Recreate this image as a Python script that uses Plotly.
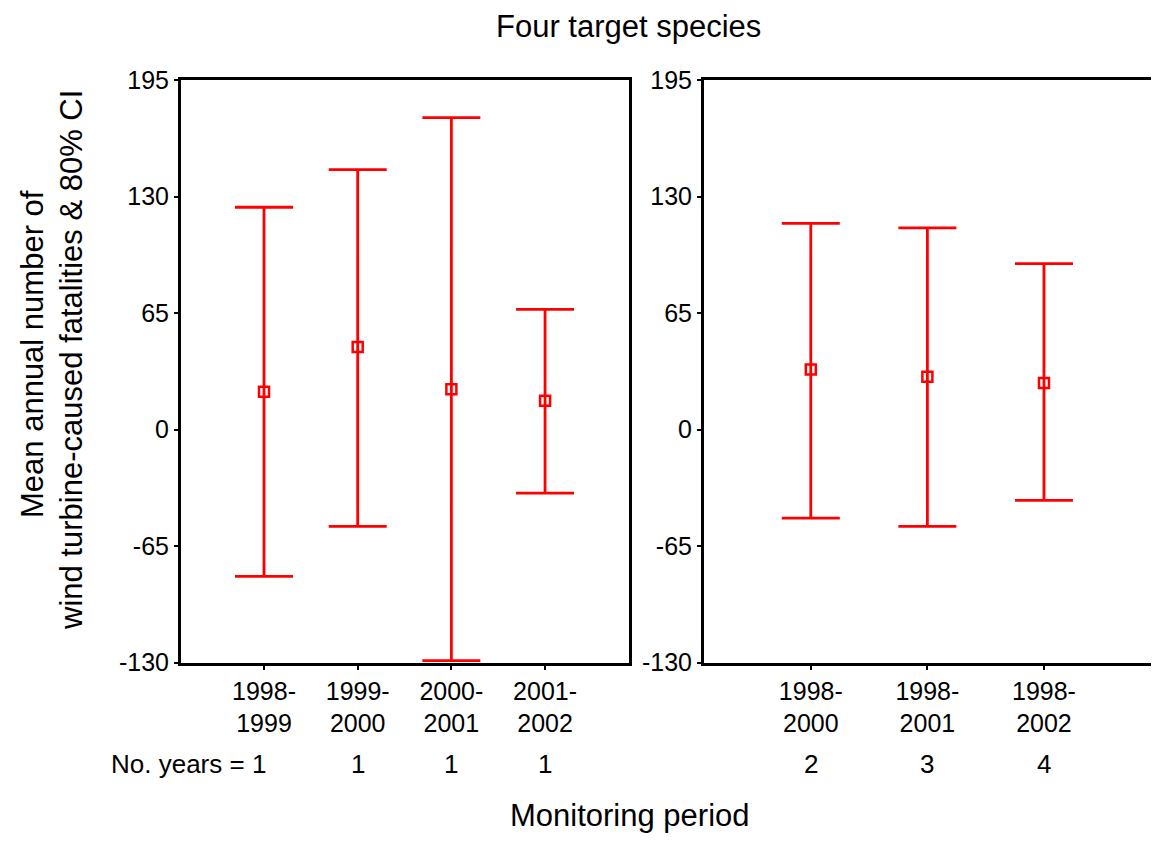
import plotly.graph_objects as go

# Single-year periods (left panel)
single_periods = ["1998-<br>1999", "1999-<br>2000", "2000-<br>2001", "2001-<br>2002"]
single_years = ["1", "1", "1", "1"]
single_mean = [21.0, 46.0, 22.5, 16.0]
single_lower = [-82.0, -54.0, -129.0, -35.5]
single_upper = [124.0, 145.0, 174.0, 67.0]

# Cumulative periods (right panel)
multi_periods = ["1998-<br>2000", "1998-<br>2001", "1998-<br>2002"]
multi_years = ["2", "3", "4"]
multi_mean = [33.5, 29.5, 26.0]
multi_lower = [-49.5, -54.0, -39.5]
multi_upper = [115.0, 112.5, 92.5]

Y_TICKS = [-130, -65, 0, 65, 130, 195]
Y_TICK_TEXT = ["-130", "-65", "0", "65", "130", "195"]
Y_TITLE_LINES = ["Mean annual number of", "wind turbine-caused fatalities & 80% CI"]

RED = "#FF0000"
FONT = "Liberation Sans, Arial, sans-serif"
PAGE_OFF = 8  # page body margin
W, H = 1159 - 2 * PAGE_OFF, 845 - 2 * PAGE_OFF


def px_x(p):
    return (p - PAGE_OFF) / W


def px_y(p):
    return 1 - (p - PAGE_OFF) / H


def ci_trace(means, lower, upper, xaxis, yaxis):
    xs = list(range(1, len(means) + 1))
    return go.Scatter(
        x=xs,
        y=means,
        mode="markers",
        marker=dict(symbol="square-open", size=10, color=RED, line=dict(width=2.5, color=RED)),
        error_y=dict(
            type="data",
            symmetric=False,
            array=[u - m for u, m in zip(upper, means)],
            arrayminus=[m - lo for m, lo in zip(means, lower)],
            color=RED,
            thickness=2.8,
            width=29,
        ),
        xaxis=xaxis,
        yaxis=yaxis,
        showlegend=False,
        hoverinfo="skip",
    )


fig = go.Figure()
fig.add_trace(ci_trace(single_mean, single_lower, single_upper, "x", "y"))
fig.add_trace(ci_trace(multi_mean, multi_lower, multi_upper, "x2", "y2"))

axis_common = dict(
    showline=True,
    linecolor="black",
    linewidth=3,
    mirror=True,
    showgrid=False,
    zeroline=False,
    ticks="outside",
    ticklen=4,
    tickwidth=2,
    tickcolor="black",
    tickfont=dict(family=FONT, size=25, color="black"),
    automargin=False,
)

y_dom = [px_y(662.5), px_y(80)]

fig.update_layout(
    width=W,
    height=H,
    margin=dict(l=0, r=0, t=0, b=0),
    paper_bgcolor="white",
    plot_bgcolor="white",
    font=dict(family=FONT, color="black"),
    xaxis=dict(
        axis_common,
        domain=[px_x(181), px_x(629)],
        range=[0.114, 4.896],
        tickvals=[1, 2, 3, 4],
        ticktext=single_periods,
        anchor="y",
    ),
    yaxis=dict(
        axis_common,
        domain=y_dom,
        range=[-130, 195],
        tickvals=Y_TICKS,
        ticktext=Y_TICK_TEXT,
        anchor="x",
    ),
    xaxis2=dict(
        axis_common,
        domain=[px_x(704), px_x(1151)],
        range=[0.084, 3.918],
        tickvals=[1, 2, 3],
        ticktext=multi_periods,
        anchor="y2",
    ),
    yaxis2=dict(
        axis_common,
        domain=y_dom,
        range=[-130, 195],
        tickvals=Y_TICKS,
        ticktext=Y_TICK_TEXT,
        anchor="x2",
    ),
)

years_y = px_y(764)
fig.add_annotation(
    x=1.04, y=years_y, xref="x", yref="paper", text="No. years = 1",
    showarrow=False, xanchor="right", yanchor="middle", font=dict(size=26),
)
for i, n in enumerate(single_years[1:], start=2):
    fig.add_annotation(
        x=i, y=years_y, xref="x", yref="paper", text=n,
        showarrow=False, xanchor="center", yanchor="middle", font=dict(size=26),
    )
for i, n in enumerate(multi_years, start=1):
    fig.add_annotation(
        x=i, y=years_y, xref="x2", yref="paper", text=n,
        showarrow=False, xanchor="center", yanchor="middle", font=dict(size=26),
    )

fig.add_annotation(
    x=px_x(628), y=1, xref="paper", yref="paper", text="Four target species",
    showarrow=False, xanchor="center", yanchor="top", borderpad=0,
    font=dict(size=31),
)
fig.add_annotation(
    x=px_x(630), y=px_y(815), xref="paper", yref="paper", text="Monitoring period",
    showarrow=False, xanchor="center", yanchor="middle", font=dict(size=31),
)
for line, cx, cy in zip(Y_TITLE_LINES, [32, 71], [354, 360]):
    fig.add_annotation(
        x=px_x(cx), y=px_y(cy), xref="paper", yref="paper", text=line,
        showarrow=False, textangle=-90, xanchor="center", yanchor="middle",
        font=dict(size=31),
    )

fig.write_html("out.html")
